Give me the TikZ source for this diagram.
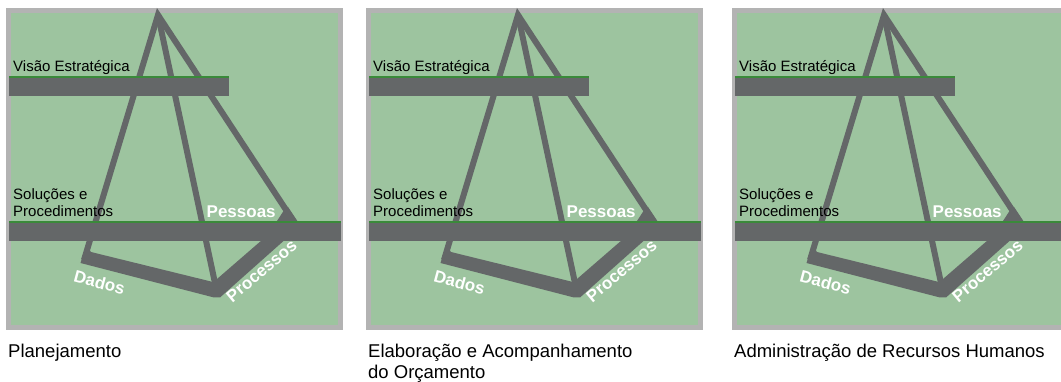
\documentclass[tikz,border=0pt]{standalone}
\usepackage{fontspec}
\setmainfont{Liberation Sans}
\definecolor{bggreen}{RGB}{157,196,159}
\definecolor{bordergray}{RGB}{179,179,179}
\definecolor{darkgray}{RGB}{100,103,104}
\definecolor{linegreen}{RGB}{58,138,58}
\tikzset{
  leg/.style={draw=darkgray, line width=6pt},
  paneltxt/.style={inner sep=0pt, anchor=base west, font=\fontsize{15}{18}\selectfont, text=black},
  whitelbl/.style={inner sep=0pt, font=\fontsize{17}{20}\selectfont\bfseries, text=white},
  captxt/.style={inner sep=0pt, anchor=base west, font=\fontsize{18.5}{22}\selectfont, text=black},
}
\begin{document}
\begin{tikzpicture}[x=1pt,y=-1pt]
\useasboundingbox (0,0) rectangle (1061,382);
\clip (0,0) rectangle (1061,382);
\fill[white] (0,0) rectangle (1061,382);
\foreach \p/\off in {1/0,2/360,3/726}{
  \begin{scope}[xshift=\off pt]
    \draw[bordergray, line width=5pt, fill=bggreen] (8.5,10.5) rectangle (340.5,327.5);
    \coordinate (A\p) at (158,15);
    \coordinate (L\p) at (84,260);
    \coordinate (M\p) at (215,283);
    \coordinate (R\p) at (296,225);
    \draw[leg, line join=miter, miter limit=10] (L\p) -- (A\p) -- (R\p);
    \draw[leg] (A\p) -- (M\p);
    \fill[darkgray] (80.5,263) -- (214,297.5) -- (220,297.5) -- (297,229) -- (298,222)
      -- (288,207) -- (283.5,211) -- (277,221) -- (262,240) -- (217,279) -- (213,282)
      -- (91,252) -- (86,245) -- cycle;
    \fill[linegreen] (9,76) rectangle (229,78.5);
    \fill[darkgray] (9,78.5) rectangle (229,96);
    \fill[linegreen] (9,221) rectangle (341,223.5);
    \fill[darkgray] (9,223.5) rectangle (341,241);
    \node[paneltxt] (vis\p) at (13,72) {Visão Estratégica};
    \node[paneltxt] (sol\p) at (13,199.5) {Soluções e};
    \node[paneltxt] (proc\p) at (13,216.8) {Procedimentos};
    \node[whitelbl, anchor=base west] (pes\p) at (206.5,218) {Pessoas};
    \node[whitelbl, rotate=-15] (dad\p) at (99.5,282.5) {Dados};
    \node[whitelbl, rotate=40] (prc\p) at (261.5,271) {Processos};
  \end{scope}
}
\node[captxt] (cap1) at (8,357) {Planejamento};
\node[captxt] (cap2a) at (368,357) {Elaboração e Acompanhamento};
\node[captxt] (cap2b) at (368,378) {do Orçamento};
\node[captxt] (cap3) at (734,357) {Administração de Recursos Humanos};
\end{tikzpicture}
\end{document}
